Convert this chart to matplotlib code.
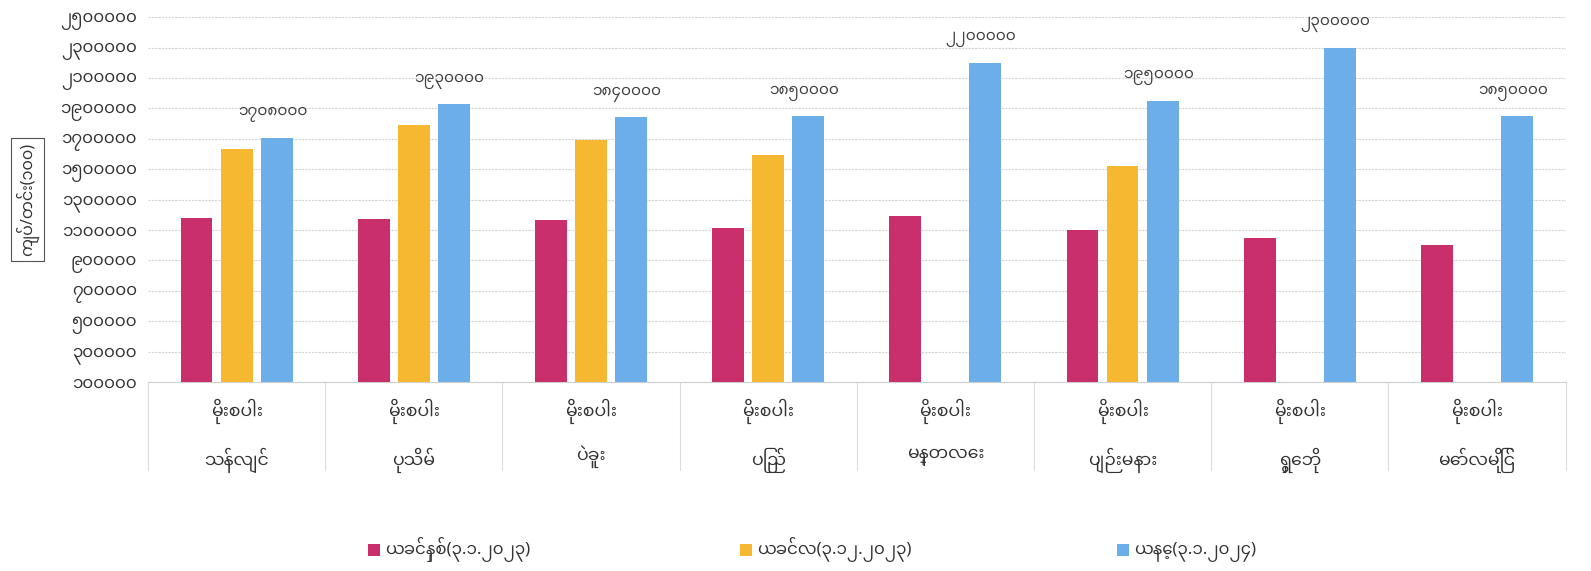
import numpy as np
import matplotlib.pyplot as plt
from matplotlib import font_manager
from matplotlib.patches import Rectangle
from matplotlib.ticker import FuncFormatter, FixedLocator

# pick a font with Myanmar glyphs if the machine has one
mm_fonts = [f.name for f in font_manager.fontManager.ttflist
            if any(k in f.name for k in ('Myanmar', 'Padauk', 'Pyidaungsu'))]
mm_fonts = sorted(set(mm_fonts), key=lambda n: ('Noto Sans Myanmar' != n, n))
plt.rcParams['font.family'] = (mm_fonts[:1] + ['DejaVu Sans'])

districts = ['သန်လျင်', 'ပုသိမ်', 'ပဲခူး', 'ပြည်', 'မန္တလေး', 'ပျဉ်းမနား', 'ရွှေဘို', 'မော်လမြိုင်']
crop = 'မိုးစပါး'
series_names = ['ယခင်နှစ်(၃.၁.၂၀၂၃)', 'ယခင်လ(၃.၁၂.၂၀၂၃)', 'ယနေ့(၃.၁.၂၀၂၄)']
last_year = [1177000, 1173000, 1165000, 1115000, 1189000, 1100000, 1045000, 1000000]
last_month = [1630000, 1790000, 1690000, 1594000, np.nan, 1524000, np.nan, np.nan]
today = [1708000, 1930000, 1840000, 1850000, 2200000, 1950000, 2300000, 1850000]
yticks = np.arange(100000, 2500001, 200000)
colors = ['#C9306B', '#F6B731', '#6CAEE9']
ylabel = 'ကျပ်/တင်း(၁၀၀)'

MM = str.maketrans('0123456789', '၀၁၂၃၄၅၆၇၈၉')


def mm(v):
    return str(int(round(v))).translate(MM)


fig = plt.figure(figsize=(15.91, 5.71), dpi=100)
ax = fig.add_axes([0.093, 0.331, 0.891, 0.639])

x = np.arange(len(districts))
w = 0.18
step = 0.226
for i, (vals, c) in enumerate(zip([last_year, last_month, today], colors)):
    vals = np.array(vals, dtype=float)
    ax.bar(x + (i - 1) * step, vals - 100000, w, bottom=100000, color=c,
           label=series_names[i], zorder=3)

for xi, v in zip(x, today):
    ax.annotate(mm(v), (xi + step, v), textcoords='offset points', xytext=(-3, 11),
                ha='center', va='bottom', fontsize=11, color='#404040', fontweight='light')

ax.set_ylim(100000, 2500000)
ax.set_xlim(-0.5, len(districts) - 0.5)
ax.yaxis.set_major_locator(FixedLocator(yticks))
ax.yaxis.set_major_formatter(FuncFormatter(lambda v, p: mm(v)))
ax.grid(axis='y', color='#d4d4d4', linestyle=(0, (2, 1)), linewidth=0.8, zorder=0)
for s in ['top', 'right', 'left']:
    ax.spines[s].set_visible(False)
ax.spines['bottom'].set_color('#cfcfcf')
ax.tick_params(axis='y', length=0, labelsize=12, labelcolor='#333333', pad=8)
ax.tick_params(axis='x', length=0, labelsize=12.5, labelcolor='#333333', pad=12)
ax.set_xticks(x)
ax.set_xticklabels([crop + '\n' + d for d in districts], linespacing=2.4)
for t in ax.get_xticklabels() + ax.get_yticklabels():
    t.set_fontweight('light')

# separators of the category table below the axis
for b in np.arange(-0.5, len(districts), 1.0):
    ax.plot([b, b], [0, -0.24], transform=ax.get_xaxis_transform(), color='#dcdcdc',
            linewidth=0.8, clip_on=False)

fig.text(0.017, 0.65, ylabel, rotation=90, ha='center', va='center', fontsize=11.5,
         color='#333333', fontweight='light',
         bbox=dict(boxstyle='square,pad=0.3', fc='white', ec='#555555', lw=0.8))

# legend: coloured squares with labels on a common baseline
sq_w, sq_h = 12 / 1591, 12 / 571
for name, c, xpos in zip(series_names, colors, [368 / 1591, 740 / 1591, 1117 / 1591]):
    fig.patches.append(Rectangle((xpos, 0.026), sq_w, sq_h, transform=fig.transFigure,
                                 facecolor=c, edgecolor='none'))
    fig.text(xpos + sq_w + 0.003, 0.030, name, ha='left', va='baseline', fontsize=12,
             color='#333333', fontweight='light')

fig.savefig('out.png', dpi=100)
